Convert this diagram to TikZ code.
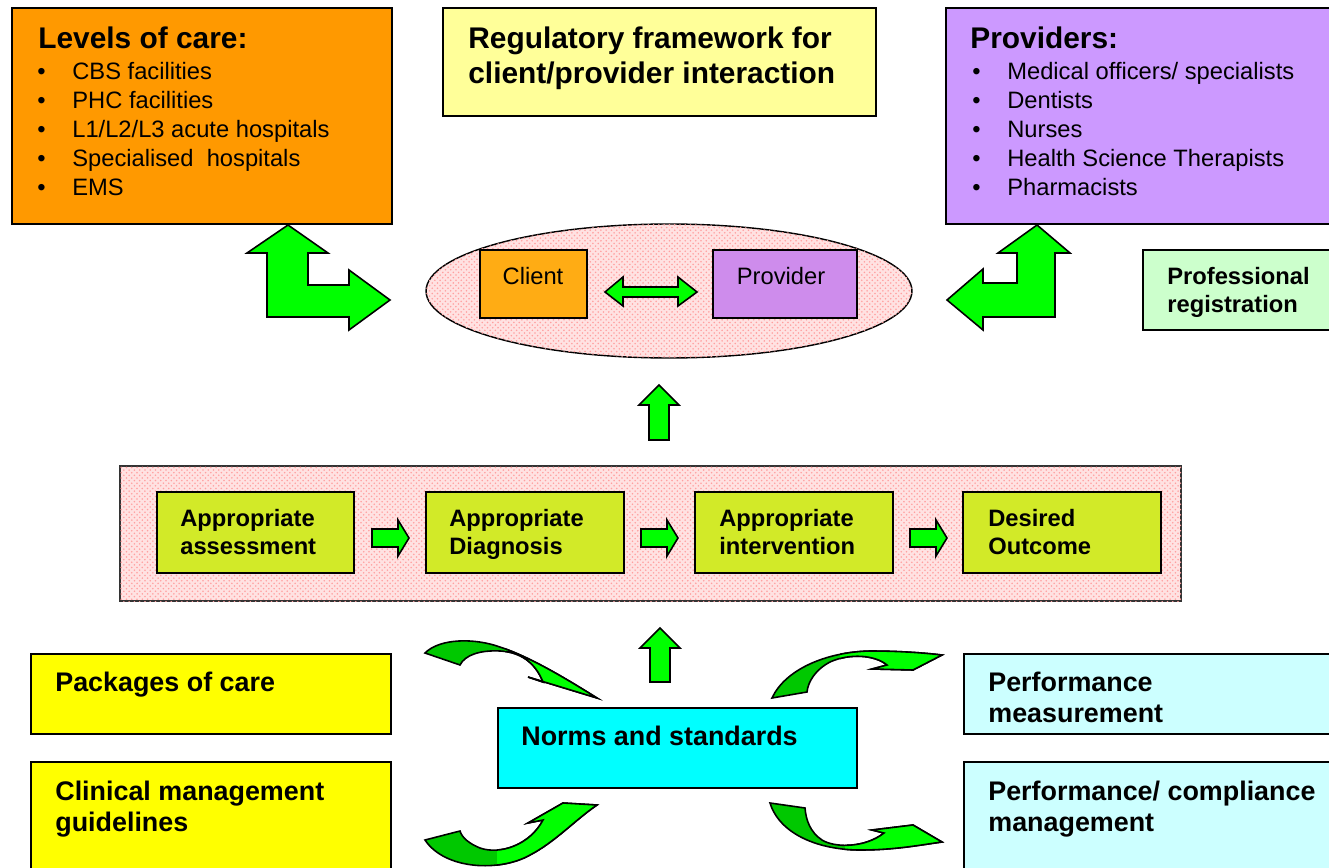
\documentclass[tikz,border=0pt]{standalone}
\usepackage{fontspec}
\setmainfont{Liberation Sans}
\usepackage{xcolor}
\usepackage{tikz}
\usetikzlibrary{positioning, patterns}
\definecolor{careorange}{RGB}{255,153,0}
\definecolor{regyellow}{RGB}{255,255,153}
\definecolor{provpurple}{RGB}{204,153,255}
\definecolor{reggreen}{RGB}{204,255,204}
\definecolor{clientorange}{RGB}{255,172,20}
\definecolor{clientpurple}{RGB}{206,140,236}
\definecolor{hatchpink}{RGB}{255,226,226}
\definecolor{dotpink}{RGB}{255,160,160}
\definecolor{stepgreen}{RGB}{210,234,40}
\definecolor{arrowgreen}{RGB}{0,255,0}
\definecolor{arrowdark}{RGB}{0,200,0}
\definecolor{packyellow}{RGB}{255,255,0}
\definecolor{normcyan}{RGB}{0,255,255}
\definecolor{perfcyan}{RGB}{204,255,255}

\newcommand{\caritem}[1]{\makebox[0.7cm][l]{\textbullet}#1}

\begin{document}
\begin{tikzpicture}[x=0.02cm, y=-0.02cm,
    box/.style={draw=black, line width=1.1pt},
    blockarrow/.style={fill=arrowgreen, draw=black, line width=0.9pt, line join=miter},
    twistarrow/.style={fill=arrowdark, draw=black, line width=0.9pt},
    dotted fill/.style={fill=hatchpink, postaction={pattern=crosshatch dots, pattern color=dotpink}},
    heading/.style={anchor=north west, inner sep=0pt, align=left, font=\fontsize{17}{19.4}\selectfont\bfseries},
    listtext/.style={anchor=north west, inner sep=0pt, align=left, font=\fontsize{13.5}{16.5}\selectfont},
    steptext/.style={anchor=north west, inner sep=0pt, align=left, font=\fontsize{13.5}{15.9}\selectfont\bfseries},
    labeltext/.style={anchor=north west, inner sep=0pt, align=left, font=\fontsize{15.3}{17.4}\selectfont\bfseries}]
    \clip (0,0) rectangle (1329,868);

    % top row
    \draw[box, fill=careorange] (12,8) rectangle (392,224);
    \node[heading] (levels) at (38,27) {Levels of care:};
    \node[listtext] (levelslist) at (37,62) {\caritem{CBS facilities}\\ \caritem{PHC facilities}\\
        \caritem{L1/L2/L3 acute hospitals}\\ \caritem{Specialised\ \ hospitals}\\ \caritem{EMS}};

    \draw[box, fill=regyellow] (443,8) rectangle (876,116);
    \node[heading] (regulatory) at (468,27) {Regulatory framework for\\ client/provider interaction};

    \draw[box, fill=provpurple] (946,8) rectangle (1340,224);
    \node[heading] (providers) at (970,27) {Providers:};
    \node[listtext] (providerslist) at (972,62) {\caritem{Medical officers/ specialists}\\ \caritem{Dentists}\\
        \caritem{Nurses}\\ \caritem{Health Science Therapists}\\ \caritem{Pharmacists}};

    \draw[box, fill=reggreen] (1143,250) rectangle (1340,330);
    \node[steptext] (registration) at (1167,267) {Professional\\ registration};

    % client and provider
    \draw[line width=0.8pt, dotted fill] (669,291) ellipse [x radius=4.86cm, y radius=1.34cm];
    \draw[box, fill=clientorange] (480,250) rectangle (587,318);
    \node[listtext, anchor=center] (client) at (533,276) {Client};
    \draw[box, fill=clientpurple] (713,250) rectangle (857,318);
    \node[listtext, anchor=center] (provider) at (781,276) {Provider};
    \filldraw[blockarrow] (605,292) -- (623,277) -- (623,287) -- (678,287) -- (678,277) -- (697,292)
        -- (678,306) -- (678,297) -- (623,297) -- (623,306) -- cycle;

    % bent arrows to the top boxes
    \filldraw[blockarrow] (288,225) -- (328,253) -- (308,253) -- (308,285) -- (349,285) -- (349,270)
        -- (390,300) -- (349,330) -- (349,317) -- (267,317) -- (267,253) -- (247,253) -- cycle;
    \filldraw[blockarrow] (1037,225) -- (1070,253) -- (1055,253) -- (1055,317) -- (983,317) -- (983,330)
        -- (947,300) -- (983,269) -- (983,283) -- (1017,283) -- (1017,253) -- (998,253) -- cycle;

    \filldraw[blockarrow] (659,385) -- (679,405) -- (669,405) -- (669,440) -- (649,440) -- (649,405) -- (639,405) -- cycle;

    % process of care
    \draw[line width=1pt, draw=black!80, dotted fill] (120,466) rectangle (1181,601);
    \draw[box, fill=stepgreen] (157,492) rectangle (354,573);
    \node[steptext] (assess) at (180,509) {Appropriate\\ assessment};
    \draw[box, fill=stepgreen] (426,492) rectangle (624,573);
    \node[steptext] (diagnose) at (449,509) {Appropriate\\ Diagnosis};
    \draw[box, fill=stepgreen] (695,492) rectangle (893,573);
    \node[steptext] (intervene) at (719,509) {Appropriate\\ intervention};
    \draw[box, fill=stepgreen] (963,492) rectangle (1161,573);
    \node[steptext] (outcome) at (988,509) {Desired\\ Outcome};
    \filldraw[blockarrow] (372,529) -- (398,529) -- (398,520) -- (409,538) -- (398,556) -- (398,547) -- (372,547) -- cycle;
    \filldraw[blockarrow] (641,529) -- (667,529) -- (667,520) -- (678,538) -- (667,556) -- (667,547) -- (641,547) -- cycle;
    \filldraw[blockarrow] (910,529) -- (936,529) -- (936,520) -- (947,538) -- (936,556) -- (936,547) -- (910,547) -- cycle;

    \filldraw[blockarrow] (660,628) -- (680,648) -- (670,648) -- (670,682) -- (650,682) -- (650,648) -- (640,648) -- cycle;

    % bottom row
    \draw[box, fill=packyellow] (31,654) rectangle (391,734);
    \node[labeltext] (packages) at (55,672) {Packages of care};
    \draw[box, fill=packyellow] (31,762) rectangle (391,880);
    \node[labeltext] (guidelines) at (55,781) {Clinical management\\ guidelines};
    \draw[box, fill=normcyan] (498,708) rectangle (857,788);
    \node[labeltext] (norms) at (521,726) {Norms and standards};
    \draw[box, fill=perfcyan] (964,654) rectangle (1340,734);
    \node[labeltext] (measure) at (988,672) {Performance\\ measurement};
    \draw[box, fill=perfcyan] (964,762) rectangle (1340,880);
    \node[labeltext] (compliance) at (988,781) {Performance/ compliance\\ management};

    % curved arrows round the norms
    \filldraw[twistarrow] (425,653) .. controls (440,638) and (475,638) .. (500,647) .. controls (530,657) and (565,678) .. (597,698)
        -- (528,677) -- (543,682) .. controls (535,662) and (520,652) .. (500,651) .. controls (480,650) and (465,655) .. (460,665) -- cycle;
    \begin{scope}
        \clip (505,600) rectangle (620,720);
        \filldraw[blockarrow] (425,653) .. controls (440,638) and (475,638) .. (500,647) .. controls (530,657) and (565,678) .. (597,698)
            -- (528,677) -- (543,682) .. controls (535,662) and (520,652) .. (500,651) .. controls (480,650) and (465,655) .. (460,665) -- cycle;
    \end{scope}

    \filldraw[twistarrow] (772,698) .. controls (785,670) and (825,652) .. (870,651) .. controls (900,651) and (925,653) .. (942,655)
        -- (913,670) -- (872,669) -- (887,665) .. controls (875,655) and (850,653) .. (830,662) .. controls (815,670) and (808,682) .. (807,692) -- cycle;
    \begin{scope}
        \clip (840,600) rectangle (960,720);
        \filldraw[blockarrow] (772,698) .. controls (785,670) and (825,652) .. (870,651) .. controls (900,651) and (925,653) .. (942,655)
            -- (913,670) -- (872,669) -- (887,665) .. controls (875,655) and (850,653) .. (830,662) .. controls (815,670) and (808,682) .. (807,692) -- cycle;
    \end{scope}

    \filldraw[twistarrow] (425,840) .. controls (445,870) and (500,872) .. (530,855) .. controls (555,842) and (575,820) .. (597,805)
        -- (563,803) -- (528,823) -- (543,820) .. controls (530,845) and (500,855) .. (480,848) .. controls (470,844) and (462,838) .. (460,831) -- cycle;
    \begin{scope}
        \clip (497,780) rectangle (620,880);
        \filldraw[blockarrow] (425,840) .. controls (445,870) and (500,872) .. (530,855) .. controls (555,842) and (575,820) .. (597,805)
            -- (563,803) -- (528,823) -- (543,820) .. controls (530,845) and (500,855) .. (480,848) .. controls (470,844) and (462,838) .. (460,831) -- cycle;
    \end{scope}

    \filldraw[twistarrow] (770,803) .. controls (780,835) and (820,850) .. (860,850) .. controls (895,850) and (920,845) .. (942,842)
        -- (913,825) -- (872,830) -- (884,833) .. controls (865,848) and (835,848) .. (822,840) .. controls (810,832) and (806,820) .. (805,808) -- cycle;
    \begin{scope}
        \clip (845,780) rectangle (960,880);
        \filldraw[blockarrow] (770,803) .. controls (780,835) and (820,850) .. (860,850) .. controls (895,850) and (920,845) .. (942,842)
            -- (913,825) -- (872,830) -- (884,833) .. controls (865,848) and (835,848) .. (822,840) .. controls (810,832) and (806,820) .. (805,808) -- cycle;
    \end{scope}
\end{tikzpicture}
\end{document}
